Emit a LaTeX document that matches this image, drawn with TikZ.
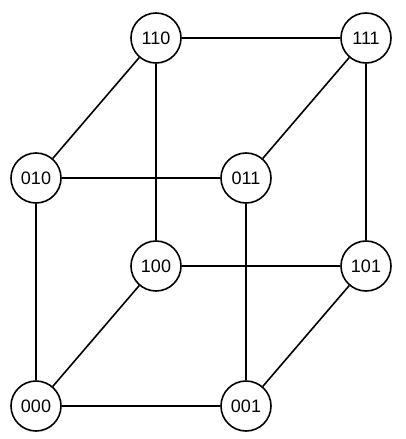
\documentclass[tikz,border=0pt]{standalone}
\usepackage{fontspec}
\setmainfont{Liberation Sans}
\begin{document}
\begin{tikzpicture}[x=1pt,y=-1pt,
  vertex/.style={circle,draw,line width=1.6pt,minimum size=50pt,inner sep=0pt,fill=white,font=\fontsize{18}{18}\selectfont},
  edge/.style={line width=1.6pt}]
\useasboundingbox (0,0) rectangle (406,439);
\node[vertex] (n110) at (156,38) {110};
\node[vertex] (n111) at (366,38) {111};
\node[vertex] (n010) at (36,178) {010};
\node[vertex] (n011) at (246,178) {011};
\node[vertex] (n100) at (156,266) {100};
\node[vertex] (n101) at (366,266) {101};
\node[vertex] (n000) at (36,406) {000};
\node[vertex] (n001) at (246,406) {001};
\draw[edge] (n110) -- (n111);
\draw[edge] (n110) -- (n010);
\draw[edge] (n110) -- (n100);
\draw[edge] (n111) -- (n011);
\draw[edge] (n111) -- (n101);
\draw[edge] (n010) -- (n011);
\draw[edge] (n010) -- (n000);
\draw[edge] (n011) -- (n001);
\draw[edge] (n100) -- (n101);
\draw[edge] (n100) -- (n000);
\draw[edge] (n101) -- (n001);
\draw[edge] (n000) -- (n001);
\end{tikzpicture}
\end{document}
